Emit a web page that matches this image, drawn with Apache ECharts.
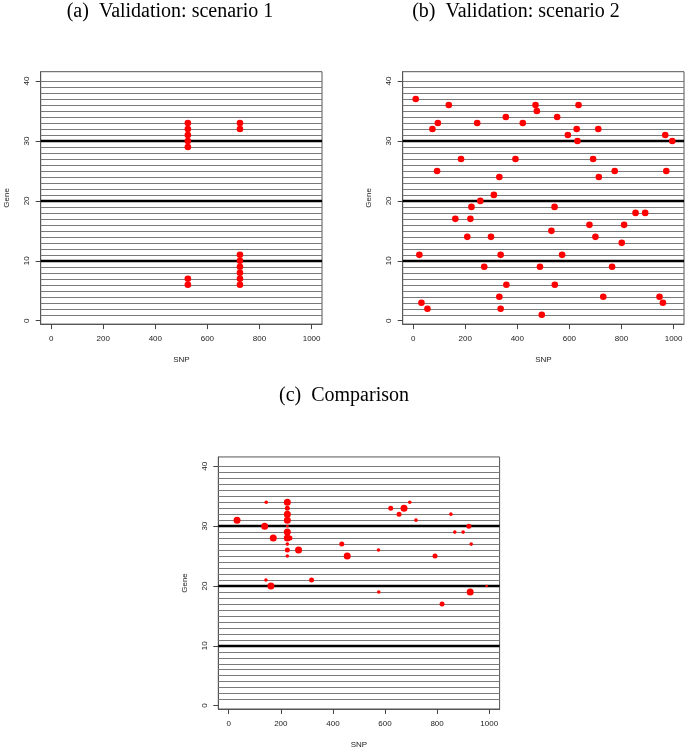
<!DOCTYPE html>
<html>
<head>
<meta charset="utf-8">
<script src="https://cdn.jsdelivr.net/npm/echarts@6/dist/echarts.min.js"></script>
<style>
html,body{margin:0;padding:0;background:#fff;}
#chart{width:688px;height:750px;}
</style>
</head>
<body>
<div id="chart"></div>
<script>
// ---------- data ----------
const titles = ['(a)  Validation: scenario 1', '(b)  Validation: scenario 2', '(c)  Comparison'];
const xTicks = [0, 200, 400, 600, 800, 1000];
const yTicks = [0, 10, 20, 30, 40];
const geneLines = [1,2,3,4,5,6,7,8,9,10,11,12,13,14,15,16,17,18,19,20,21,22,23,24,25,26,27,28,29,30,31,32,33,34,35,36,37,38,39,40];
const majorLines = [10, 20, 30];

// (a) scenario 1
const scen1Snp  = [525,525,525,525,525,525,525, 725,725,725,725,725,725,725,725];
const scen1Gene = [29,30,31,32,33,6,7,          32,33,6,7,8,9,10,11];

// (b) scenario 2
const scen2Snp  = [10,137,470,635,475,356,553,95,246,421,74,628,711,594,968,631,995,184,393,691,92,774,972,331,713,310,258,224,543,854,891,162,220,677,810,531,208,299,700,801,24,336,572,273,487,764,358,544,331,730,946,32,959,55,336,494];
const scen2Gene = [37,36,36,36,35,34,34,33,33,33,32,32,32,31,31,30,30,27,27,27,25,25,25,24,24,21,20,19,19,18,18,17,17,16,16,15,14,14,14,13,11,11,11,9,9,9,6,6,4,4,4,3,3,2,2,1];

// (c) comparison (weight = relative point size)
const compSnp    = [32,144,138,171,143,162,225,225,225,225,225,225,225,235,225,225,225,268,318,434,455,575,576,622,654,673,695,719,792,819,853,868,900,922,931,927,990];
const compGene   = [31,34,30,28,21,20,34,33,32,31,30,29,28,28,27,26,25,26,21,27,25,26,19,33,32,33,34,31,25,17,32,29,29,30,27,19,20];
const compWeight = [4,2,4,4,2,4,4,3,4,4,1,4,4,3,2,3,2,4,3,3,4,2,2,3,3,4,2,2,3,3,2,2,2,3,2,4,1];

// ---------- layout ----------
const grids = [
  {left: 40.7,  top: 71.7,  width: 281.3, height: 252.4},
  {left: 402.7, top: 71.7,  width: 281.3, height: 252.4},
  {left: 218.3, top: 456.95, width: 281.3, height: 252.4}
];
const titlePos = [[170, 12], [516, 12], [344, 396]];
const sizeMap = {1: 2.6, 2: 3.6, 3: 5.0, 4: 7.0};

const sansFont = '"Liberation Sans", Arial, sans-serif';
const serifFont = '"Liberation Serif", "Times New Roman", serif';

function zip(xs, ys) { return xs.map((x, i) => [x, ys[i]]); }
const plain = v => String(v);

const option = {
  animation: false,
  backgroundColor: '#fff',
  grid: grids.map(g => Object.assign({show: true, borderColor: '#555', borderWidth: 1, backgroundColor: 'transparent'}, g)),
  xAxis: grids.map((g, i) => ({
    type: 'value', gridIndex: i, min: -40, max: 1040,
    name: 'SNP', nameLocation: 'middle', nameGap: 32,
    nameTextStyle: {fontFamily: sansFont, fontSize: 8, color: '#222'},
    axisLine: {show: true, onZero: false, lineStyle: {color: '#555', width: 1}},
    axisTick: {show: true, inside: false, length: 5, lineStyle: {color: '#444', width: 1}, customValues: xTicks},
    axisLabel: {show: true, margin: 11, fontFamily: sansFont, fontSize: 8, color: '#222', customValues: xTicks, formatter: plain},
    splitLine: {show: false}
  })),
  yAxis: grids.map((g, i) => ({
    type: 'value', gridIndex: i, min: -0.56, max: 41.56,
    name: 'Gene', nameLocation: 'middle', nameGap: 30, nameRotate: 90,
    nameTextStyle: {fontFamily: sansFont, fontSize: 8, color: '#222'},
    axisLine: {show: true, onZero: false, lineStyle: {color: '#555', width: 1}},
    axisTick: {show: true, inside: false, length: 5, lineStyle: {color: '#444', width: 1}, customValues: yTicks},
    axisLabel: {show: true, margin: 10, rotate: 90, fontFamily: sansFont, fontSize: 8, color: '#222', customValues: yTicks, formatter: plain},
    splitLine: {show: false}
  })),
  graphic: titles.map((t, i) => ({
    type: 'text', x: titlePos[i][0], y: titlePos[i][1],
    style: {text: t, font: '20px ' + serifFont, fill: '#000', textAlign: 'center', textVerticalAlign: 'middle'}
  })),
  series: []
};

const pointSets = [
  zip(scen1Snp, scen1Gene),
  zip(scen2Snp, scen2Gene),
  compSnp.map((x, i) => [x, compGene[i], compWeight[i]])
];

pointSets.forEach((pts, i) => {
  option.series.push({
    type: 'scatter', xAxisIndex: i, yAxisIndex: i, data: [], z: 1, silent: true,
    markLine: {
      silent: true, symbol: 'none', label: {show: false}, animation: false,
      data: geneLines.filter(g => majorLines.indexOf(g) < 0).map(g => ({yAxis: g, lineStyle: {color: '#7a7a7a', width: 1.2, type: 'solid'}}))
        .concat(majorLines.map(g => ({yAxis: g, lineStyle: {color: '#000', width: 2.4, type: 'solid'}})))
    }
  });
  option.series.push({
    type: 'scatter', xAxisIndex: i, yAxisIndex: i, z: 5,
    data: pts,
    symbol: 'circle',
    symbolSize: i === 2 ? (v => sizeMap[v[2]]) : 6.6,
    itemStyle: {color: '#ff0000', opacity: 1},
    emphasis: {disabled: true}
  });
});

const chart = echarts.init(document.getElementById('chart'), null, {renderer: 'canvas'});
chart.setOption(option);
</script>
</body>
</html>
